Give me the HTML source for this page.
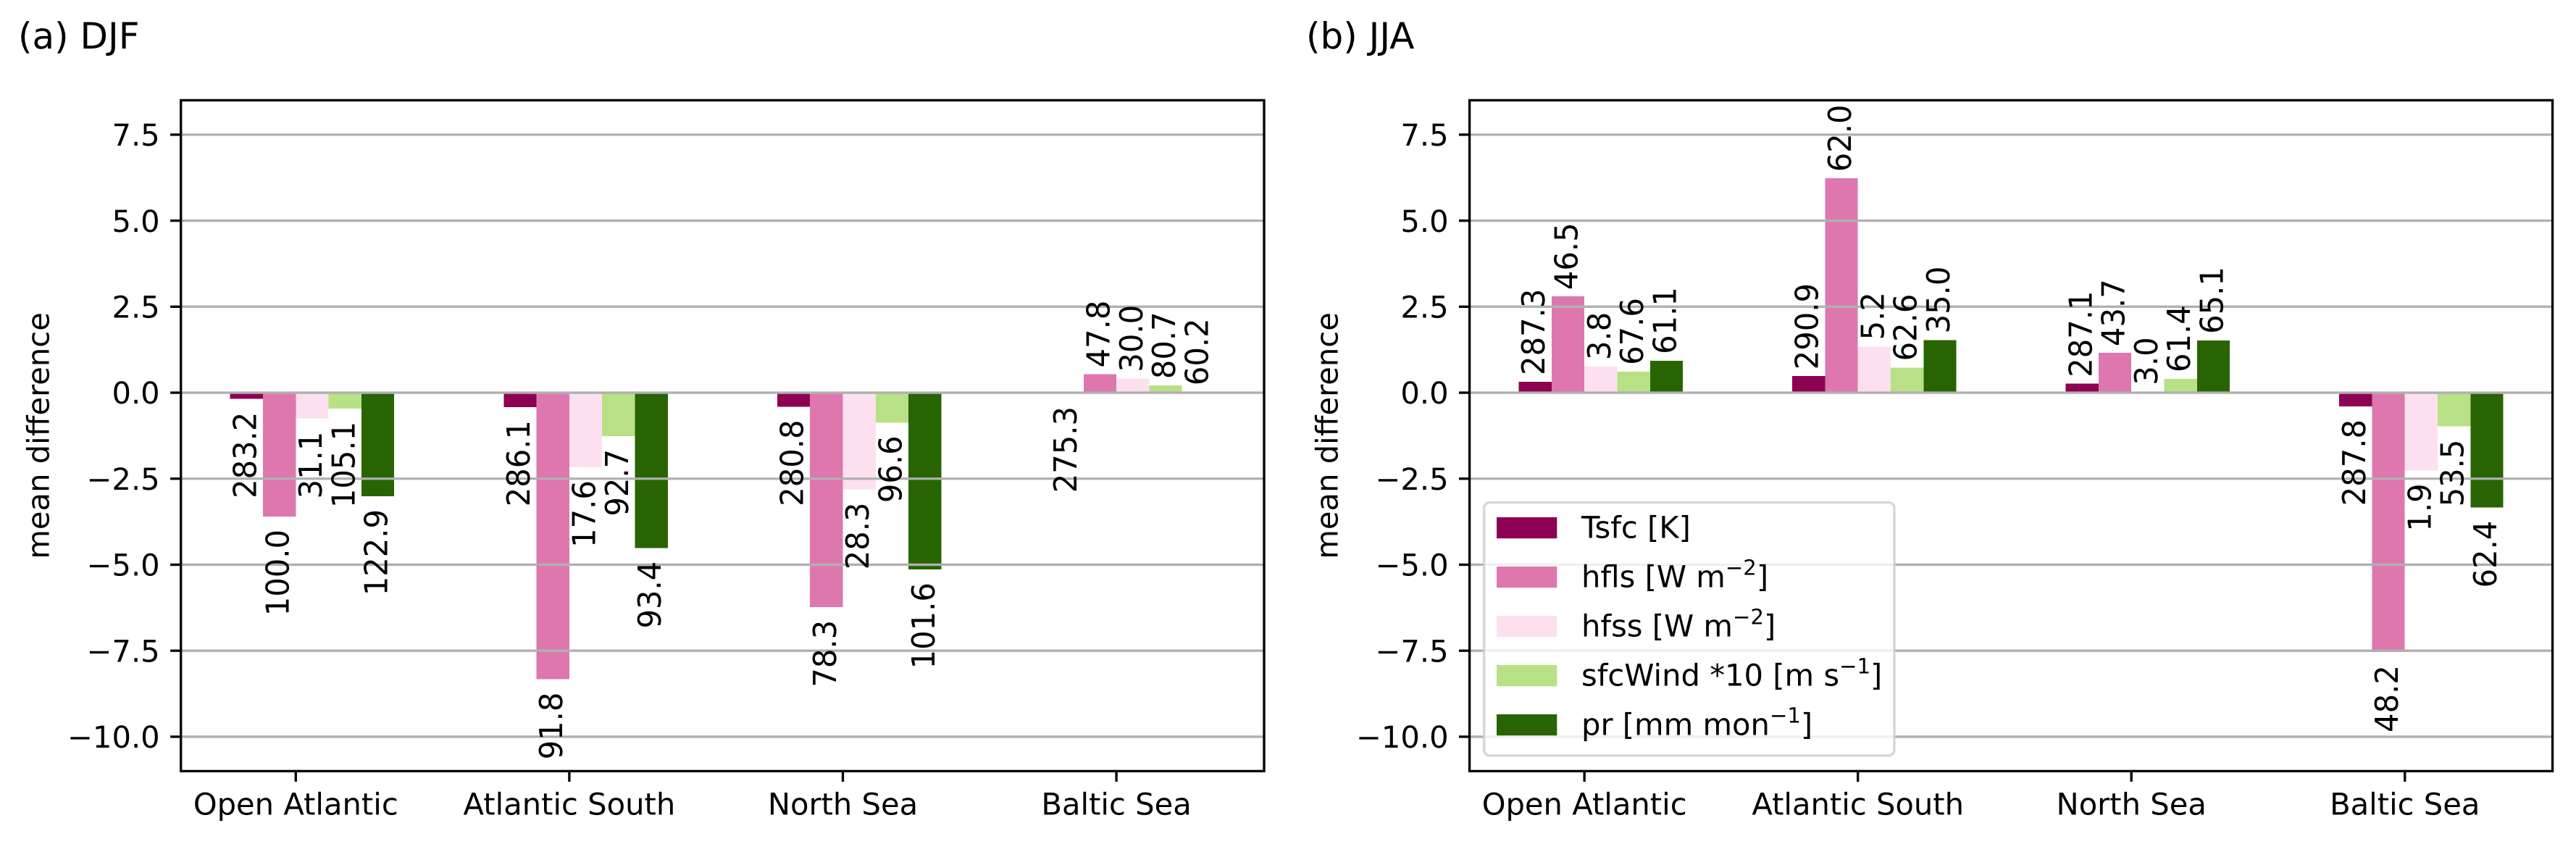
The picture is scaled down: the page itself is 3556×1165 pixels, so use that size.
<!DOCTYPE html>
<html>
<head>
<meta charset="utf-8">
<title>Mean difference DJF and JJA</title>
<style>
html,body{margin:0;padding:0;background:#fff;}
svg{display:block;font-family:"DejaVu Sans","Liberation Sans",sans-serif;text-rendering:geometricPrecision;}
</style>
</head>
<body>
<svg id="fig" xmlns="http://www.w3.org/2000/svg" width="3556" height="1165" viewBox="0 0 3556 1165"></svg>
<script>
const categories = ["Open Atlantic", "Atlantic South", "North Sea", "Baltic Sea"];
const seriesNames = ["Tsfc", "hfls", "hfss", "sfcWind", "pr"];
const seriesColors = ["#8e0152", "#de77ae", "#fde0ef", "#b8e186", "#296402"];
const yTicks = [7.5, 5, 2.5, 0, -2.5, -5, -7.5, -10];
const yTickLabels = ["7.5", "5.0", "2.5", "0.0", "\u22122.5", "\u22125.0", "\u22127.5", "\u221210.0"];

const djfTsfc = [-0.18, -0.42, -0.41, -0.02];
const djfHfls = [-3.60, -8.33, -6.23, 0.54];
const djfHfss = [-0.75, -2.17, -2.81, 0.41];
const djfWind = [-0.46, -1.26, -0.87, 0.21];
const djfPr = [-3.01, -4.52, -5.14, 0.02];
const djfTsfcLabels = ["283.2", "286.1", "280.8", "275.3"];
const djfHflsLabels = ["100.0", "91.8", "78.3", "47.8"];
const djfHfssLabels = ["31.1", "17.6", "28.3", "30.0"];
const djfWindLabels = ["105.1", "92.7", "96.6", "80.7"];
const djfPrLabels = ["122.9", "93.4", "101.6", "60.2"];

const jjaTsfc = [0.32, 0.48, 0.26, -0.40];
const jjaHfls = [2.80, 6.23, 1.16, -7.54];
const jjaHfss = [0.76, 1.34, 0.03, -2.26];
const jjaWind = [0.615, 0.73, 0.40, -0.98];
const jjaPr = [0.93, 1.53, 1.52, -3.34];
const jjaTsfcLabels = ["287.3", "290.9", "287.1", "287.8"];
const jjaHflsLabels = ["46.5", "62.0", "43.7", "48.2"];
const jjaHfssLabels = ["3.8", "5.2", "3.0", "1.9"];
const jjaWindLabels = ["67.6", "62.6", "61.4", "53.5"];
const jjaPrLabels = ["61.1", "35.0", "65.1", "62.4"];

const NS = "http://www.w3.org/2000/svg";
const fig = document.getElementById("fig");
const FONT = 41.67;
const AX_TOP = 138.4, AX_BOTTOM = 1064.4;
const Y_MIN = -11, Y_MAX = 8.5, X_MIN = -0.42, X_MAX = 3.54;
const BAR_W = 0.12;

function mk(parent, tag, attrs, txt) {
  const el = document.createElementNS(NS, tag);
  for (const k in attrs) el.setAttribute(k, attrs[k]);
  if (txt !== undefined) el.textContent = txt;
  parent.appendChild(el);
  return el;
}

function drawPanel(cfg) {
  const x = v => cfg.left + (v - X_MIN) / (X_MAX - X_MIN) * (cfg.right - cfg.left);
  const y = v => AX_BOTTOM - (v - Y_MIN) / (Y_MAX - Y_MIN) * (AX_BOTTOM - AX_TOP);

  const g = mk(fig, "g", {});
  
  

  const title = mk(g, "text", {x: cfg.titleX, y: 67, "font-size": 50, fill: "#000"}, cfg.title);
  
  

  // bars
  cfg.series.forEach((vals, s) => {
    vals.forEach((v, c) => {
      const x0 = x(c + (s - 2) * BAR_W);
      const x1 = x(c + (s - 1) * BAR_W);
      const rect = mk(g, "rect", {x: x0, width: x1 - x0, y: Math.min(y(0), y(v)), height: Math.abs(y(v) - y(0)), fill: seriesColors[s], "shape-rendering": "crispEdges"});
      
      
    });
  });

  // gridlines and y ticks
  yTicks.forEach((t, i) => {
    const line = mk(g, "line", {x1: cfg.left, x2: cfg.right, y1: y(t), y2: y(t), stroke: "#b0b0b0", "stroke-width": 3.33});
    
    
    const tick = mk(g, "line", {x1: cfg.left - 14.6, x2: cfg.left, y1: y(t), y2: y(t), stroke: "#000", "stroke-width": 3.33});
    
    
    const lab = mk(g, "text", {x: cfg.left - 29, y: y(t) + 15.2, "font-size": FONT, "text-anchor": "end", fill: "#000"}, yTickLabels[i]);
    
    
  });

  // x ticks
  categories.forEach((name, c) => {
    const tick = mk(g, "line", {x1: x(c), x2: x(c), y1: AX_BOTTOM, y2: AX_BOTTOM + 14.6, stroke: "#000", "stroke-width": 3.33});
    
    
    const lab = mk(g, "text", {x: x(c), y: 1124.5, "font-size": FONT, "text-anchor": "middle", fill: "#000"}, name);
    
    
  });

  // value labels
  cfg.series.forEach((vals, s) => {
    vals.forEach((v, c) => {
      const cx = x(c + (s - 1.5) * BAR_W) + 13;
      const neg = v < 0;
      const py = neg ? y(v) + 18 : y(v) - 9;
      const t = mk(g, "text", {
        transform: "translate(" + cx + " " + py + ") rotate(-90) scale(1 1.05)",
        "font-size": FONT,
        "text-anchor": neg ? "end" : "start",
        fill: "#000"
      }, cfg.labels[s][c]);
      
      
    });
  });

  // y axis title
  const yl = mk(g, "text", {
    transform: "translate(" + (cfg.left - 182) + " " + ((AX_TOP + AX_BOTTOM) / 2) + ") rotate(-90)",
    "font-size": FONT, "text-anchor": "middle", fill: "#000"
  }, "mean difference");
  
  

  // frame
  const frame = mk(g, "rect", {x: cfg.left, y: AX_TOP, width: cfg.right - cfg.left, height: AX_BOTTOM - AX_TOP, fill: "none", stroke: "#000", "stroke-width": 3.33});
  
  
}

drawPanel({
  name: "djf", title: "(a) DJF", titleX: 25, left: 249.7, right: 1745,
  series: [djfTsfc, djfHfls, djfHfss, djfWind, djfPr],
  labels: [djfTsfcLabels, djfHflsLabels, djfHfssLabels, djfWindLabels, djfPrLabels]
});
drawPanel({
  name: "jja", title: "(b) JJA", titleX: 1803, left: 2028.6, right: 3523.6,
  series: [jjaTsfc, jjaHfls, jjaHfss, jjaWind, jjaPr],
  labels: [jjaTsfcLabels, jjaHflsLabels, jjaHfssLabels, jjaWindLabels, jjaPrLabels]
});

// legend
const legendEntries = [
  ["Tsfc [K]", "", ""],
  ["hfls [W m", "\u22122", "]"],
  ["hfss [W m", "\u22122", "]"],
  ["sfcWind *10 [m s", "\u22121", "]"],
  ["pr [mm mon", "\u22121", "]"]
];
const legend = mk(fig, "g", {});


const legendBox = mk(legend, "rect", {x: 2048.7, y: 693.5, width: 566.3, height: 349.5, rx: 8, ry: 8, fill: "#fff", "fill-opacity": 0.8, stroke: "#ccc", "stroke-opacity": 0.8, "stroke-width": 3.33});


legendEntries.forEach((e, i) => {
  const cy = 728.6 + i * 68;
  const sw = mk(legend, "rect", {x: 2066, y: cy - 14.6, width: 83.3, height: 29.2, fill: seriesColors[i]});
  
  
  const t = mk(legend, "text", {x: 2183, y: cy + 14, "font-size": FONT, fill: "#000"});
  
  
  mk(t, "tspan", {}, e[0]);
  if (e[1]) {
    mk(t, "tspan", {dy: -17, "font-size": FONT * 0.7}, e[1]);
    mk(t, "tspan", {dy: 17}, e[2]);
  }
});
</script>
</body>
</html>
